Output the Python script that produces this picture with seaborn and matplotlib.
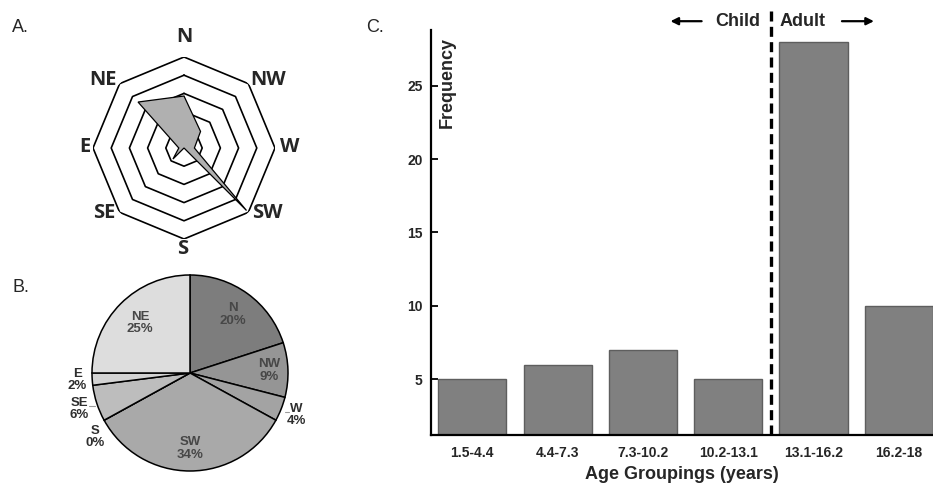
import matplotlib
matplotlib.use('Agg')
import matplotlib.pyplot as plt
import numpy as np
import pandas as pd
import seaborn as sns

# ---------------- data ----------------
directions = ['N', 'NW', 'W', 'SW', 'S', 'SE', 'E', 'NE']
direction_pct = [20, 9, 4, 34, 0, 6, 2, 25]
radar_rings = [7, 14, 21, 28, 35]
pie_colors = ['#7d7d7d', '#959595', '#a3a3a3', '#a9a9a9', '#b4b4b4', '#bdbdbd', '#d3d3d3', '#dddddd']
age_groups = ['1.5-4.4', '4.4-7.3', '7.3-10.2', '10.2-13.1', '13.1-16.2', '16.2-18']
frequency = [5, 6, 7, 5, 28, 10]
y_ticks = [5, 10, 15, 20, 25]

sns.set_theme(style='white')
plt.rcParams['font.family'] = ['Liberation Sans', 'DejaVu Sans']

W, H = 933, 486
fig = plt.figure(figsize=(W / 100, H / 100), dpi=100)


def box(l, t, w, h):
    return [l / W, 1 - (t + h) / H, w / W, h / H]


# ---------------- A: radar ----------------
RA = 91
axA = fig.add_axes(box(184 - RA, 148 - RA, 2 * RA, 2 * RA), projection='polar')
axA.set_theta_zero_location('N')
axA.set_theta_direction(-1)
theta = np.deg2rad(np.arange(len(directions)) * 45.0)
th_c = np.append(theta, theta[0])
for r in radar_rings:
    axA.plot(th_c, [r] * len(th_c), color='black', lw=1.2, zorder=2)
vals = np.array(direction_pct + [direction_pct[0]], dtype=float)
axA.fill(th_c, vals, facecolor='#b0b0b0', edgecolor='black', lw=0.9, zorder=3)
axA.set_ylim(0, max(radar_rings))
axA.axis('off')
# label offsets (pixels) from each outer vertex
label_off = [(0, 20), (20, 4), (15, 1), (19, -1), (-1, -10), (-15, -1), (-8, 1), (-17, 4)]
for t, d, off in zip(theta, directions, label_off):
    axA.annotate(d, xy=(t, max(radar_rings)), xytext=off, textcoords='offset pixels',
                 ha='center', va='center', fontsize=14.5, fontweight='bold',
                 family=['Open Sans', 'DejaVu Sans'], annotation_clip=False)
fig.text(12 / W, 1 - 27 / H, 'A.', fontsize=13, va='center', ha='left')

# ---------------- B: pie ----------------
R = 98
cx, cy = 190, 373
axB = fig.add_axes(box(cx - 1.3 * R, cy - 1.3 * R, 2.6 * R, 2.45 * R))
wedges, _ = axB.pie(direction_pct, colors=pie_colors, startangle=90, counterclock=False,
                    wedgeprops=dict(edgecolor='black', linewidth=1.1))
axB.set_xlim(-1.3, 1.3)
axB.set_ylim(-1.15, 1.3)
pie_r = [0.74, 0.81, 1.17, 0.77, 1.17, 1.19, 1.15, 0.72]
cum = np.cumsum([0] + direction_pct)
for i, (d, p, lr) in enumerate(zip(directions, direction_pct, pie_r)):
    mid = np.deg2rad(90 - 3.6 * (cum[i] + p / 2))
    if d == 'S':
        mid = np.deg2rad(-146)
    col = '#474747' if lr < 1 else '#2e2e2e'
    axB.text(lr * np.cos(mid), lr * np.sin(mid), f'{d}\n{p}%', ha='center', va='center',
             fontsize=9.5, fontweight='bold', color=col, linespacing=1.05, clip_on=False)
# small leader ticks next to the W and SE labels
axB.plot([0.97, 1.01], [-0.40, -0.40], color='#9a9a9a', lw=0.8, clip_on=False)
axB.plot([-1.03, -0.97], [-0.34, -0.34], color='#9a9a9a', lw=0.8, clip_on=False)
fig.text(12 / W, 1 - 287 / H, 'B.', fontsize=13, va='center', ha='left')

# ---------------- C: bars ----------------
ax_left, ax_top, ax_bottom = 431, 30, 435
axC = fig.add_axes(box(ax_left, ax_top, W - ax_left, ax_bottom - ax_top))
df = pd.DataFrame({'age': age_groups, 'freq': frequency})
sns.barplot(data=df, x='age', y='freq', color='#808080', saturation=1, width=0.8,
            edgecolor='#5e5e5e', linewidth=1, ax=axC)
axC.set_xlim(-0.485, 5.4)
axC.set_ylim(1.2, 28.8)
axC.set_yticks(y_ticks)
axC.set_yticklabels([str(v) for v in y_ticks], fontsize=10, fontweight='bold')
axC.set_xticks(range(len(age_groups)))
axC.set_xticklabels(age_groups, fontsize=10, fontweight='bold')
axC.tick_params(axis='x', direction='in', length=5, width=1.3, color='black', pad=8, bottom=True)
axC.tick_params(axis='y', direction='in', length=5, width=1.3, color='black', pad=6, left=True)
for s in ['top', 'right']:
    axC.spines[s].set_visible(False)
for s in ['left', 'bottom']:
    axC.spines[s].set_color('black')
    axC.spines[s].set_linewidth(1.6)
axC.set_ylabel('')
axC.set_xlabel('Age Groupings (years)', fontsize=13, fontweight='bold', labelpad=4)
fig.text(447 / W, 1 - 37 / H, 'Frequency', rotation=90, ha='center', va='top',
         fontsize=13, fontweight='bold')
axC.plot([3.5, 3.5], [1.2, 30.3], ls=(0, (3, 1.6)), color='black', lw=2.4, clip_on=False)
axC.annotate('', xy=(2.29, 29.4), xytext=(2.72, 29.4),
             arrowprops=dict(arrowstyle='-|>', color='black', lw=1.6, mutation_scale=11),
             annotation_clip=False)
axC.annotate('', xy=(4.74, 29.4), xytext=(4.30, 29.4),
             arrowprops=dict(arrowstyle='-|>', color='black', lw=1.6, mutation_scale=11),
             annotation_clip=False)
axC.text(3.38, 29.4, 'Child', ha='right', va='center', fontsize=13, fontweight='bold', clip_on=False)
axC.text(3.60, 29.4, 'Adult', ha='left', va='center', fontsize=13, fontweight='bold', clip_on=False)
fig.text(366 / W, 1 - 27 / H, 'C.', fontsize=13, va='center', ha='left')

fig.savefig('out.png', dpi=100)
